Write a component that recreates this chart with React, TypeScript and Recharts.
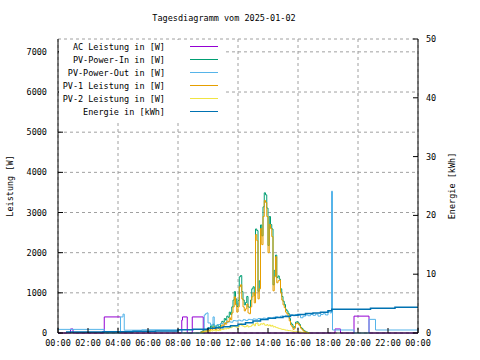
import React from "react";
import {
  ComposedChart,
  Line,
  XAxis,
  YAxis,
  CartesianGrid,
  Legend,
} from "recharts";

const FONT = "'DejaVu Sans Mono', monospace";

// tick labels
const xTicks = [0, 2, 4, 6, 8, 10, 12, 14, 16, 18, 20, 22, 24];
const xMinorTicks = [1, 3, 5, 7, 9, 11, 13, 15, 17, 19, 21, 23];
const leftTicks = [0, 1000, 2000, 3000, 4000, 5000, 6000, 7000];
const rightTicks = [0, 10, 20, 30, 40, 50];
const rightMinorTicks = [5, 15, 25, 35, 45];

// AC Leistung [W]
const acTimes = ["00:00", "00:50", "01:00", "03:05", "04:10", "08:15", "08:18", "08:37", "08:57", "09:41", "18:28", "18:50", "19:44", "20:44", "24:00"];
const acW = [0, 100, 0, 400, 0, 320, 400, 0, 400, 0, 100, 0, 420, 0, 0];

// PV-Power-Out [W]
const outTimes = [
  "00:00", "03:05", "04:10", "04:20", "04:25", "05:35", "08:15", "09:45", "09:50", "09:55",
  "10:00", "10:10", "10:20", "10:25", "10:40", "10:50", "11:00", "11:10", "11:20", "11:30",
  "11:40", "11:50", "12:00", "12:10", "12:20", "12:30", "12:40", "12:50", "13:00", "13:10",
  "13:20", "13:30", "13:40", "13:50", "14:00", "14:10", "14:20", "14:30", "14:40", "14:50",
  "15:00", "15:10", "15:20", "15:30", "15:40", "15:50", "16:00", "16:10", "16:20", "16:30",
  "16:40", "16:50", "17:00", "17:10", "17:20", "17:30", "17:40", "17:50", "18:00", "18:08",
  "18:14", "18:18", "19:44", "20:44", "21:10", "24:00",
];
const outW = [
  90, 0, 400, 470, 70, 80, 0, 450, 480, 500,
  250, 200, 400, 180, 210, 240, 220, 260, 280, 270,
  310, 300, 320, 300, 330, 310, 340, 330, 350, 340,
  360, 350, 370, 360, 380, 370, 390, 400, 390, 420,
  410, 440, 420, 450, 430, 460, 440, 380, 420, 450,
  430, 460, 440, 470, 420, 460, 480, 450, 550, 500,
  3530, 75, 0, 340, 75, 75,
];

// PV-Power-In, PV-1, PV-2 [W], every 5 minutes
const pvTimes = [
  "09:30", "09:35", "09:40", "09:45", "09:50", "09:55", "10:00", "10:05", "10:10", "10:15",
  "10:20", "10:25", "10:30", "10:35", "10:40", "10:45", "10:50", "10:55", "11:00", "11:05",
  "11:10", "11:15", "11:20", "11:25", "11:30", "11:35", "11:40", "11:45", "11:50", "11:55",
  "12:00", "12:05", "12:10", "12:15", "12:20", "12:25", "12:30", "12:35", "12:40", "12:45",
  "12:50", "12:55", "13:00", "13:05", "13:10", "13:15", "13:20", "13:25", "13:30", "13:35",
  "13:40", "13:45", "13:50", "13:55", "14:00", "14:05", "14:10", "14:15", "14:20", "14:25",
  "14:30", "14:35", "14:40", "14:45", "14:50", "14:55", "15:00", "15:05", "15:10", "15:15",
  "15:20", "15:25", "15:30", "15:35", "15:40", "15:45", "15:50", "15:55", "16:00", "16:05",
  "16:10", "16:15", "16:20", "16:25", "16:30", "16:35", "16:40", "16:45",
];
const pvInW = [
  30, 45, 60, 80, 70, 100, 130, 100, 180, 140,
  220, 160, 130, 200, 170, 150, 230, 290, 270, 360,
  320, 420, 390, 520, 460, 650, 820, 1030, 850, 660,
  810, 1400, 1430, 1030, 820, 700, 760, 910, 650, 640,
  820, 1100, 1150, 930, 2590, 2550, 1040, 1300, 2690, 2420,
  3140, 3490, 3440, 3110, 2180, 2900, 2700, 2590, 1200, 1560,
  1940, 1380, 1420, 1340, 1100, 910, 790, 710, 590, 550,
  490, 360, 250, 210, 130, 160, 270, 280, 250, 210,
  140, 110, 70, 50, 30, 20, 5, 0,
];
const pv1W = [
  20, 30, 40, 50, 40, 60, 80, 60, 120, 90,
  150, 100, 80, 130, 110, 90, 150, 200, 180, 250,
  220, 300, 280, 380, 330, 500, 650, 900, 700, 520,
  650, 1150, 1200, 850, 650, 550, 600, 720, 500, 480,
  650, 900, 1000, 750, 2450, 2300, 850, 1100, 2600, 2200,
  2900, 3300, 3250, 2900, 2000, 2700, 2600, 2400, 1050, 1400,
  1900, 1250, 1300, 1320, 1000, 820, 700, 630, 520, 480,
  430, 300, 200, 160, 90, 120, 230, 250, 220, 180,
  120, 90, 50, 40, 20, 10, 0, 0,
];
const pv2W = [
  10, 15, 20, 30, 30, 40, 50, 40, 60, 50,
  70, 60, 50, 70, 60, 60, 80, 90, 90, 110,
  100, 120, 110, 140, 130, 150, 170, 160, 150, 140,
  160, 200, 230, 180, 170, 150, 160, 190, 150, 160,
  170, 200, 220, 180, 240, 250, 190, 200, 230, 220,
  240, 200, 190, 210, 180, 200, 170, 190, 150, 160,
  140, 130, 120, 110, 100, 90, 90, 80, 70, 70,
  60, 60, 50, 50, 40, 40, 40, 30, 30, 30,
  20, 20, 20, 10, 10, 10, 5, 0,
];

// Energie [kWh]
const energyTimes = [
  "00:32", "03:00", "05:00", "06:30", "08:00", "09:00", "10:00", "10:30", "11:00", "11:30",
  "12:00", "12:30", "13:00", "13:30", "14:00", "14:30", "15:00", "15:30", "16:00", "16:30",
  "17:00", "17:30", "18:00", "18:15", "20:50", "22:28", "24:00",
];
const energyKWh = [
  0.15, 0.2, 0.3, 0.35, 0.55, 0.62, 0.8, 0.9, 1.05, 1.25,
  1.5, 1.75, 2.05, 2.3, 2.5, 2.65, 2.8, 3.0, 3.15, 3.3,
  3.4, 3.55, 3.8, 4.05, 4.2, 4.4, 4.4,
];

const toH = (s: string) => {
  const [h, m] = s.split(":").map(Number);
  return h + m / 60;
};
const rows = (times: string[], vals: number[]) =>
  times.map((t, i) => ({ t: toH(t), v: vals[i] }));

const series = [
  { name: "AC Leistung in [W]", color: "#9400d3", data: rows(acTimes, acW), axis: "left", w: 1 },
  { name: "PV-Power-In in [W]", color: "#009e73", data: rows(pvTimes, pvInW), axis: "left", w: 1 },
  { name: "PV-Power-Out in [W]", color: "#56b4e9", data: rows(outTimes, outW), axis: "left", w: 1 },
  { name: "PV-1 Leistung in [W]", color: "#e69f00", data: rows(pvTimes, pv1W), axis: "left", w: 1 },
  { name: "PV-2 Leistung in [W]", color: "#f0e442", data: rows(pvTimes, pv2W), axis: "left", w: 1 },
  { name: "Energie in [kWh]", color: "#0072b2", data: rows(energyTimes, energyKWh), axis: "right", w: 1.5 },
];

const fmtTime = (h: number) => `${String(h % 24).padStart(2, "0")}:00`;
const blank = () => "";

const tickStyle = { fontSize: 8.5, fill: "#000", fontFamily: FONT };

const AxisTitle = (props: any) => {
  const { viewBox, value, dx } = props;
  const cx = viewBox.x + dx;
  const cy = viewBox.y + viewBox.height / 2;
  return (
    <text
      x={cx}
      y={cy}
      transform={`rotate(-90 ${cx} ${cy})`}
      textAnchor="middle"
      dominantBaseline="central"
      style={tickStyle}
    >
      {value}
    </text>
  );
};

const KeyBox = () => (
  <div style={{ background: "#fff", width: 166, height: 80, fontFamily: FONT, fontSize: 8.5, color: "#000" }}>
    {series.map((s) => (
      <div key={s.name} style={{ display: "flex", alignItems: "center", height: 13 }}>
        <span style={{ width: 106, textAlign: "right", whiteSpace: "pre" }}>{s.name}</span>
        <span style={{ marginLeft: 25, width: 28, height: 1.5, background: s.color }} />
      </div>
    ))}
  </div>
);

export default function App() {
  return (
    <div style={{ position: "absolute", left: 0, top: 0, width: 480, height: 360, background: "#fff" }}>
      <ComposedChart width={480} height={360} margin={{ top: 39, right: 0, bottom: 0, left: 0 }}>
        <CartesianGrid xAxisId="bottom" yAxisId="left" stroke="#a0a0a0" strokeDasharray="3 3" />
        {/* minor and mirrored ticks */}
        <XAxis xAxisId="minorB" type="number" domain={[0, 24]} ticks={xMinorTicks} tickFormatter={blank}
          height={0} tickSize={-3} axisLine={false} stroke="#000" />
        <XAxis
          xAxisId="bottom"
          type="number"
          dataKey="t"
          domain={[0, 24]}
          ticks={xTicks}
          tickFormatter={fmtTime}
          height={27}
          tickSize={-5}
          tickMargin={12}
          stroke="#000"
          tick={tickStyle}
          allowDataOverflow
        />
        <XAxis xAxisId="top" orientation="top" type="number" domain={[0, 24]} ticks={xTicks} tickFormatter={blank}
          height={0} tickSize={-5} stroke="#000" />
        <XAxis xAxisId="minorT" orientation="top" type="number" domain={[0, 24]} ticks={xMinorTicks} tickFormatter={blank}
          height={0} tickSize={-3} axisLine={false} stroke="#000" />
        <YAxis
          yAxisId="left"
          domain={[0, 7320]}
          ticks={leftTicks}
          width={58}
          tickSize={-5}
          tickMargin={16}
          stroke="#000"
          tick={tickStyle}
          label={<AxisTitle value="Leistung [W]" dx={10} />}
        />
        <YAxis yAxisId="leftMirror" orientation="right" domain={[0, 7320]} ticks={leftTicks} tickFormatter={blank}
          width={0} tickSize={-5} axisLine={false} stroke="#000" />
        <YAxis yAxisId="rightMinor" orientation="right" domain={[0, 50]} ticks={rightMinorTicks} tickFormatter={blank}
          width={0} tickSize={-3} axisLine={false} stroke="#000" />
        <YAxis
          yAxisId="right"
          orientation="right"
          domain={[0, 50]}
          ticks={rightTicks}
          width={62}
          tickSize={-5}
          tickMargin={13}
          stroke="#000"
          tick={tickStyle}
          label={<AxisTitle value="Energie [kWh]" dx={34} />}
        />
        <Legend
          layout="vertical"
          align="center"
          verticalAlign="middle"
          content={<KeyBox />}
          wrapperStyle={{ left: 59, top: 40, width: 166, height: 80 }}
        />
        {series.map((s) => (
          <Line
            key={s.name}
            name={s.name}
            data={s.data}
            dataKey="v"
            xAxisId="bottom"
            yAxisId={s.axis}
            type="stepAfter"
            stroke={s.color}
            strokeWidth={s.w}
            dot={false}
            activeDot={false}
            isAnimationActive={false}
          />
        ))}
      </ComposedChart>
      <div
        style={{
          position: "absolute",
          left: 0,
          top: 12,
          width: 448,
          textAlign: "center",
          lineHeight: "12px",
          fontFamily: FONT,
          fontSize: 8.5,
          color: "#000",
        }}
      >
        Tagesdiagramm vom 2025-01-02
      </div>
    </div>
  );
}
